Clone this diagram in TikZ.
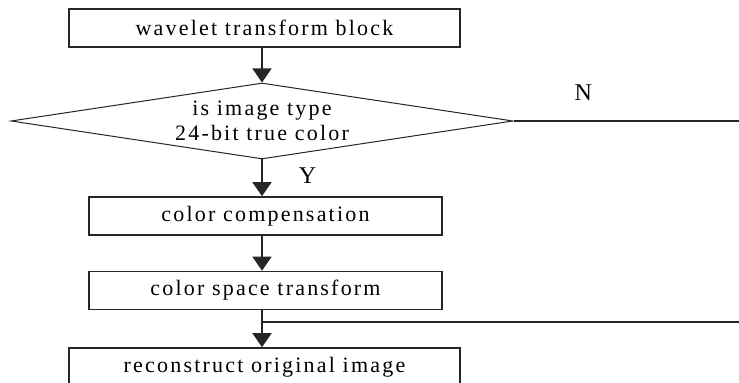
\documentclass[tikz,border=0pt]{standalone}
\usepackage{fontspec}
\setmainfont{Liberation Serif}
\newfontfamily\flowfont[LetterSpace=10]{Liberation Serif}
\usetikzlibrary{arrows.meta,positioning,shapes.geometric}
\tikzset{
  wtblock/.style={
    rectangle, draw=black!85, fill=white, line width=0.8pt,
    minimum width=195.5pt, minimum height=19pt, inner sep=0pt,
    font=\flowfont\fontsize{11}{12.5}\selectfont
  },
  wtnarrow/.style={wtblock, minimum width=176.5pt},
  wtdecision/.style={
    diamond, draw=black!85, fill=white, line width=0.5pt,
    minimum width=251pt, minimum height=38pt, aspect=6.6, inner sep=0pt,
    align=center, font=\flowfont\fontsize{11}{12.5}\selectfont
  },
  wtedge/.style={-{Triangle[width=9.5pt,length=7pt]},line width=0.8pt,draw=black!85},
  wtline/.style={line width=0.8pt,draw=black!85},
  wtlabel/.style={font=\flowfont\fontsize{12}{13}\selectfont,inner sep=0pt}
}

\begin{document}
\begin{tikzpicture}[x=0.5pt,y=-0.5pt]
  \clip (0,0) rectangle (739,383);
  \fill[white] (0,0) rectangle (739,383);

  \node[wtblock] (wavelet) at (264.5,28) {wavelet transform block};
  \node[wtdecision] (truecolor) at (262,121) {is image type\\24-bit true color};
  \node[wtnarrow] (compensate) at (265.5,216) {color compensation};
  \node[wtnarrow] (space) at (265.5,290.5) {color space transform};
  \node[wtblock] (rebuild) at (264.5,367) {reconstruct original image};

  % exits running off to the right
  \coordinate (noexit) at (739,121);
  \coordinate (bypass) at (739,322);

  \draw[wtedge] (wavelet.south -| truecolor.north) -- (truecolor.north);
  \draw[wtline] (truecolor.east) -- node[wtlabel,above=10pt,pos=0.31] {N} (noexit);
  \draw[wtedge] (truecolor.south) -- node[wtlabel,right=18pt,pos=0.45] {Y} (truecolor.south |- compensate.north);
  \draw[wtedge] (compensate.south -| truecolor.south) -- (space.north -| truecolor.south);
  \draw[wtedge] (space.south -| truecolor.south) -- (rebuild.north -| truecolor.south);
  \draw[wtline] (truecolor.south |- bypass) -- (bypass);
\end{tikzpicture}
\end{document}
